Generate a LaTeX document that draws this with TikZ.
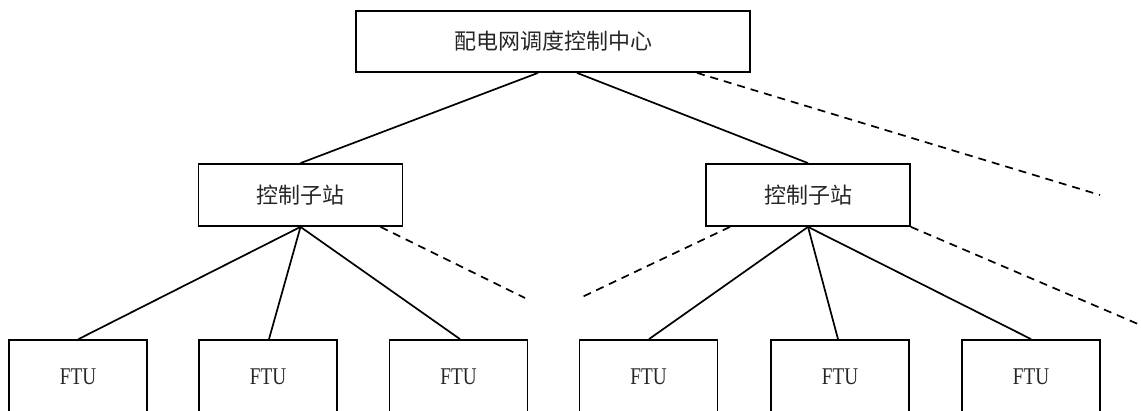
\documentclass[tikz,border=0pt]{standalone}
\usepackage{fontspec}
\newfontfamily\cjk{Noto Sans CJK SC}
\newfontfamily\ftufont[FakeStretch=0.8]{Liberation Serif}
\usetikzlibrary{calc}
\tikzset{
  boxnode/.style={draw, line width=1.8pt, inner sep=0pt, text=black!85},
  topbox/.style={boxnode, minimum width=394pt, minimum height=61pt, font=\cjk\fontsize{22}{24}\selectfont},
  stationbox/.style={boxnode, minimum width=204pt, minimum height=62pt, font=\cjk\fontsize{22}{24}\selectfont},
  ftubox/.style={boxnode, minimum width=138pt, minimum height=74pt, font=\ftufont\fontsize{24}{26}\selectfont},
  link/.style={line width=1.7pt},
  dlink/.style={line width=1.7pt, dash pattern=on 8pt off 6pt},
}
\begin{document}
\begin{tikzpicture}[x=1pt, y=-1pt]
\useasboundingbox (0,0) rectangle (1141,410);
\clip (0,0) rectangle (1141,410);
\fill[white] (0,0) rectangle (1141,410);

\node[topbox] (top) at (553,41.5) {配电网调度控制中心};
\node[stationbox] (s1) at (300.5,195) {控制子站};
\node[stationbox] (s2) at (808,195) {控制子站};

\node[ftubox] (f1) at (78,377) {FTU};
\node[ftubox] (f2) at (268,377) {FTU};
\node[ftubox] (f3) at (458.5,377) {FTU};
\node[ftubox] (f4) at (648.5,377) {FTU};
\node[ftubox] (f5) at (840,377) {FTU};
\node[ftubox] (f6) at (1031,377) {FTU};

\coordinate (d0) at (1100,195);
\coordinate (d1) at (525,298);
\coordinate (d2) at (580,298);
\coordinate (d3) at (1145,327);

\draw[link] ($(top.south)+(-15,0)$) -- (s1.north);
\draw[link] ($(top.south)+(24,0)$) -- (s2.north);
\draw[dlink] ($(top.south)+(144,0)$) -- (d0);

\draw[link] (s1.south) -- ($(f1.north)+(0.5,0)$);
\draw[link] (s1.south) -- ($(f2.north)+(1,0)$);
\draw[link] (s1.south) -- ($(f3.north)+(1.5,0)$);
\draw[dlink] ($(s1.south)+(80,0)$) -- (d1);

\draw[link] (s2.south) -- ($(f4.north)+(0.5,0)$);
\draw[link] (s2.south) -- ($(f5.north)+(-2,0)$);
\draw[link] (s2.south) -- (f6.north);
\draw[dlink] ($(s2.south)+(-78,0)$) -- (d2);
\draw[dlink] (s2.south east) -- (d3);
\end{tikzpicture}
\end{document}
